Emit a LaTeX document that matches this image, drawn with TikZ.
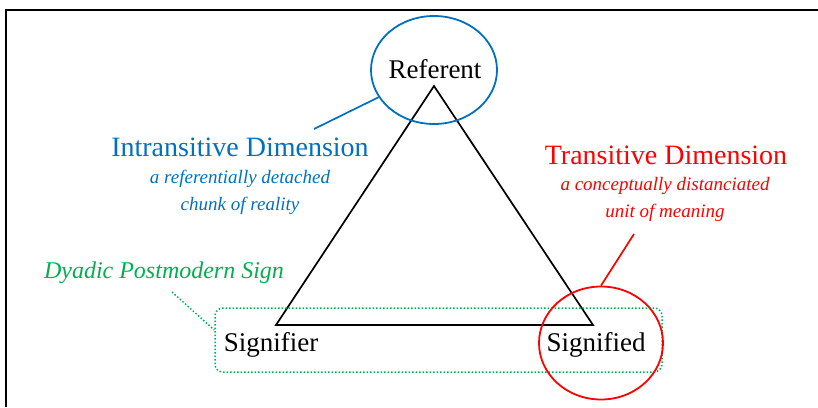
\documentclass[tikz,border=0pt]{standalone}
\usepackage{fontspec}
\setmainfont{Liberation Serif}
\usepackage{tikz}
\usetikzlibrary{positioning,shapes.geometric}
\definecolor{semblue}{RGB}{0,112,192}
\definecolor{semred}{RGB}{255,0,0}
\definecolor{semgreen}{RGB}{0,176,80}
\tikzset{
 sem frame/.style={line width=1.6pt},
 sem side/.style={line width=1.7pt,line join=miter},
 sem ring/.style={ellipse,draw=#1,line width=1.8pt,inner sep=0pt},
 sem box/.style={draw=semgreen,line width=1.5pt,dash pattern=on 1.5pt off 2pt,
                 rounded corners=8pt,inner sep=0pt},
 sem link/.style={line width=1.7pt},
 sem dots/.style={draw=semgreen,line width=1.5pt,dash pattern=on 1.5pt off 2pt},
 sem term/.style={font=\fontsize{27}{30}\selectfont,inner sep=1pt},
 sem heading/.style={font=\fontsize{28}{30}\selectfont,inner sep=1pt},
 sem gloss/.style={font=\fontsize{19}{27}\selectfont\itshape,align=center,inner sep=1pt}
}
\begin{document}
\begin{tikzpicture}[x=1pt,y=-1pt]
 \useasboundingbox (0,0) rectangle (818,407);
 \draw[sem frame] (818,10) -- (6,10) -- (6,407);

 \coordinate (apex) at (434,86);
 \coordinate (base left) at (276,325);
 \coordinate (base right) at (593,325);
 \draw[sem side] (apex) -- (base left) -- (base right) -- cycle;

 \node[sem box,minimum width=447pt,minimum height=64pt] (dyad) at (438.5,340) {};
 \node[sem ring=semblue,minimum width=126pt,minimum height=108pt] (referent ring) at (434,70) {};
 \node[sem ring=semred,minimum width=124pt,minimum height=113pt] (signified ring) at (601,343) {};

 \node[sem term] (referent) at (435,69) {Referent};
 \node[sem term] (signifier) at (271,345) {Signifier};
 \node[sem term] (signified) at (596,345) {Signified};

 \node[sem heading,text=semblue] (intra) at (240,147) {Intransitive Dimension};
 \node[sem gloss,text=semblue] (intra gloss) at (240,192) {a referentially detached\\chunk of reality};
 \node[sem heading,text=semred] (trans) at (666,155) {Transitive Dimension};
 \node[sem gloss,text=semred] (trans gloss) at (665,199) {a conceptually distanciated\\unit of meaning};
 \node[sem gloss,text=semgreen,font=\fontsize{24}{27}\selectfont\itshape] (dyad label) at (164,273) {Dyadic Postmodern Sign};

 \coordinate (intra end) at (314,129);
 \coordinate (trans end) at (634,234);
 \coordinate (dyad end) at (172,292);
 \draw[sem link,semblue] (intra end) -- (referent ring);
 \draw[sem link,semred] (trans end) -- (signified ring.north);
 \draw[sem dots] (dyad end) -- ([yshift=10pt]dyad.west);
\end{tikzpicture}
\end{document}
